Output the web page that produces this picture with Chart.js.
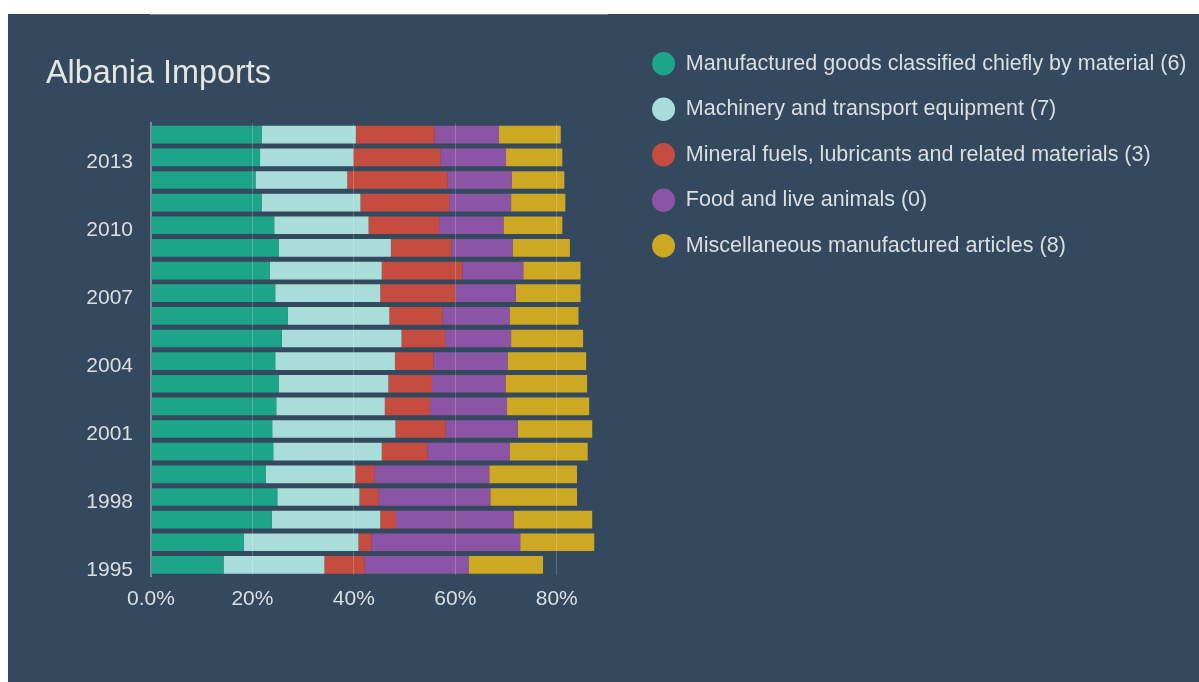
<!DOCTYPE html>
<html>
<head>
<meta charset="utf-8">
<script src="https://cdn.jsdelivr.net/npm/chart.js@4"></script>
<style>
  html, body { margin: 0; padding: 0; background: #fff; }
  #panel { position: absolute; left: 8px; top: 14px; width: 1191px; height: 668px; background: #34495e; }
</style>
</head>
<body>
<div id="panel"><canvas id="importsChart"></canvas></div>
<script>
const years = [1995, 1996, 1997, 1998, 1999, 2000, 2001, 2002, 2003, 2004,
               2005, 2006, 2007, 2008, 2009, 2010, 2011, 2012, 2013, 2014];

// share of total imports, %
const manufactured = [14.3, 18.3, 23.8, 24.9, 22.6, 24.1, 23.9, 24.7, 25.2, 24.5, 25.8, 27.0, 24.5, 23.4, 25.2, 24.3, 21.8, 20.6, 21.5, 21.8];
const machinery = [19.9, 22.6, 21.4, 16.2, 17.7, 21.4, 24.3, 21.4, 21.6, 23.6, 23.6, 20.0, 20.7, 22.1, 22.1, 18.6, 19.5, 18.1, 18.4, 18.6];
const mineral = [7.9, 2.6, 3.1, 3.8, 3.8, 9.0, 9.9, 8.9, 8.6, 7.6, 8.6, 10.5, 14.8, 15.9, 11.9, 13.9, 17.5, 19.8, 17.2, 15.5];
const food = [20.5, 29.3, 23.2, 22.0, 22.6, 16.2, 14.2, 15.2, 14.5, 14.6, 13.0, 13.2, 11.9, 12.0, 12.1, 12.7, 12.2, 12.6, 12.9, 12.7];
const misc = [14.7, 14.6, 15.5, 17.1, 17.3, 15.4, 14.7, 16.2, 16.1, 15.5, 14.2, 13.6, 12.8, 11.3, 11.3, 11.6, 10.7, 10.4, 11.1, 12.2];

const seriesNames = [
    'Manufactured goods classified chiefly by material (6)',
    'Machinery and transport equipment (7)',
    'Mineral fuels, lubricants and related materials (3)',
    'Food and live animals (0)',
    'Miscellaneous manufactured articles (8)'
];
const colors = ['#1da589', '#a8ddd9', '#c54d40', '#8b54a5', '#cda822'];
const xTicks = [0, 20, 40, 60, 80];

const font = 'Liberation Sans, Arial, sans-serif';
const textColor = '#dcdfdf';
const axisColor = 'rgb(125, 138, 150)';

const ctx = document.getElementById('importsChart');

new Chart(ctx, {
    type: 'bar',
    data: {
        labels: years,
        datasets: [manufactured, machinery, mineral, food, misc].map((d, i) => ({
            label: seriesNames[i],
            data: d,
            backgroundColor: colors[i],
            borderWidth: 0,
            barPercentage: 0.78,
            categoryPercentage: 1
        }))
    },
    options: {
        indexAxis: 'y',
        responsive: true,
        maintainAspectRatio: false,
        animation: false,
        layout: {
            padding: { top: 15, left: 38, right: 2.5, bottom: 60.6 }
        },
        plugins: {
            title: {
                display: true,
                text: 'Albania Imports',
                align: 'start',
                color: '#e6e6e1',
                font: { family: font, size: 32.4, weight: 'normal' },
                padding: { top: 25.5, bottom: 30 }
            },
            legend: {
                position: 'right',
                align: 'start',
                maxWidth: 640,
                labels: {
                    usePointStyle: true,
                    pointStyle: 'circle',
                    pointStyleWidth: 23,
                    boxHeight: 16.5,
                    padding: 24,
                    color: textColor,
                    font: { family: font, size: 21.5 }
                }
            },
            tooltip: { enabled: false }
        },
        scales: {
            x: {
                stacked: true,
                min: 0,
                max: 90,
                grid: {
                    z: 1,
                    drawTicks: false,
                    color: (c) => c.tick && c.tick.value === 0 ? 'transparent' : 'rgba(255, 255, 255, 0.2)'
                },
                border: { color: axisColor, width: 2 },
                afterBuildTicks: (scale) => {
                    scale.ticks = xTicks.map(v => ({ value: v }));
                },
                ticks: {
                    padding: 10,
                    color: textColor,
                    font: { family: font, size: 21 },
                    callback: (v) => v === 0 ? '0.0%' : v + '%'
                }
            },
            y: {
                stacked: true,
                reverse: true,
                grid: { display: false, drawTicks: false },
                border: { color: axisColor, width: 2 },
                afterFit: (scale) => { scale.width = 105; },
                ticks: {
                    autoSkip: false,
                    padding: 18,
                    labelOffset: 5,
                    color: textColor,
                    font: { family: font, size: 21 },
                    callback: function (v, i) {
                        const yr = years[i];
                        return (yr - 1995) % 3 === 0 ? String(yr) : '';
                    }
                }
            },
            // empty axis, only keeps a gap between the plot and the legend
            yPad: {
                axis: 'y',
                type: 'category',
                position: 'right',
                grid: { display: false },
                border: { display: false },
                ticks: { display: false },
                afterFit: (scale) => { scale.width = 20.6; }
            }
        }
    }
});
</script>
</body>
</html>
